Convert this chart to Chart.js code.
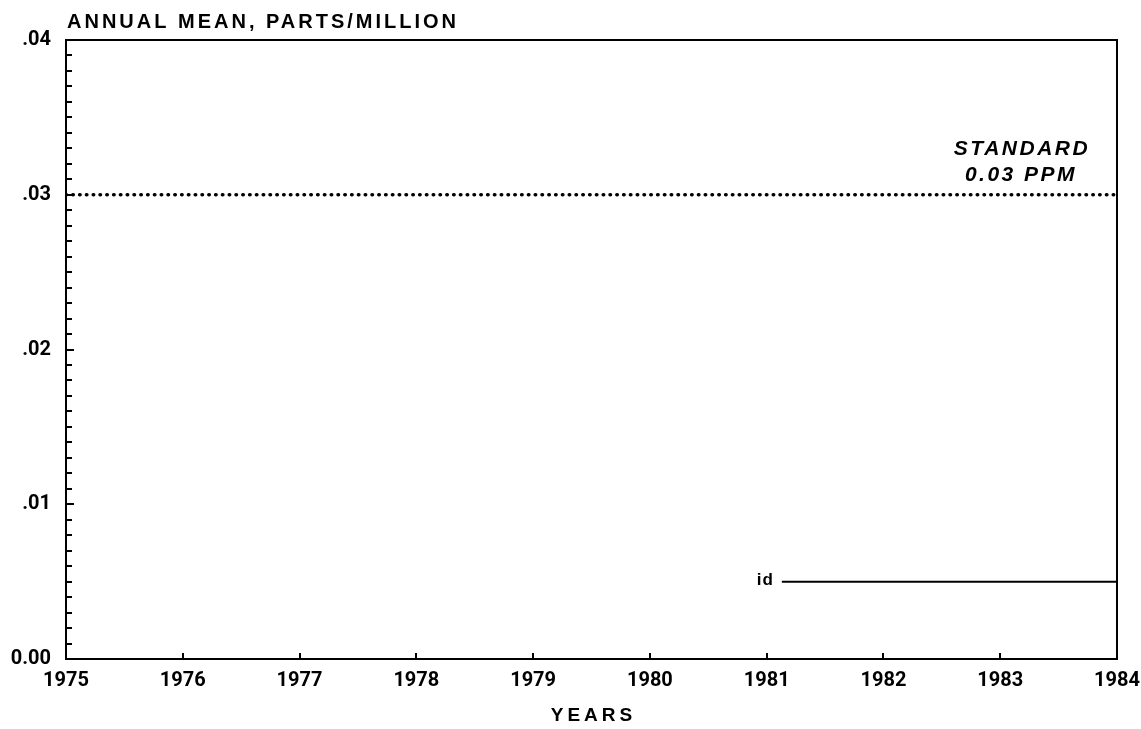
<!DOCTYPE html>
<html>
<head>
<meta charset="utf-8">
<script src="https://cdn.jsdelivr.net/npm/chart.js@4/dist/chart.umd.min.js"></script>
<style>
  html, body { margin: 0; padding: 0; background: #fff; }
  #chart { display: block; }
</style>
</head>
<body>
<canvas id="chart" width="1141" height="729"></canvas>
<script>
// data
const yearMin = 1975;
const yearMax = 1984;
const yTickLabels = ["0.00", ".01", ".02", ".03", ".04"];

const standardYears = [1975, 1984];
const standardValues = [0.03, 0.03];

const idYears = [1981.13, 1984];
const idValues = [0.005, 0.005];

const titleText = "ANNUAL MEAN, PARTS/MILLION";
const xTitleText = "YEARS";
const standardText = ["STANDARD", "0.03 PPM"];
const idText = "id";

const tickFont = "Roboto, 'DejaVu Sans Condensed', sans-serif";
const textFont = "'Liberation Sans', Arial, sans-serif";

function pts(xs, ys) {
  return xs.map((x, i) => ({ x, y: ys[i] }));
}

function isMajor(v) {
  return Math.round(v * 1000) % 10 === 0;
}

// inward tick marks, closed frame and free text
const decor = {
  id: "decor",
  afterDraw(chart) {
    const { ctx, chartArea: a, scales: { x, y } } = chart;
    ctx.save();
    ctx.strokeStyle = "#000";
    ctx.lineWidth = 2;
    ctx.lineCap = "butt";

    // top + right border
    ctx.beginPath();
    ctx.moveTo(a.left, a.top);
    ctx.lineTo(a.right, a.top);
    ctx.lineTo(a.right, a.bottom);
    ctx.stroke();

    // y ticks pointing in
    for (const t of y.ticks) {
      const py = Math.round(y.getPixelForValue(t.value));
      const len = isMajor(t.value) ? 8 : 6;
      ctx.beginPath();
      ctx.moveTo(a.left, py);
      ctx.lineTo(a.left + len, py);
      ctx.stroke();
    }
    // x ticks pointing up
    for (const t of x.ticks) {
      const px = Math.round(x.getPixelForValue(t.value));
      ctx.beginPath();
      ctx.moveTo(px, a.bottom);
      ctx.lineTo(px, a.bottom - 6);
      ctx.stroke();
    }

    ctx.fillStyle = "#000";
    ctx.textBaseline = "middle";

    // title
    ctx.font = "bold 20px " + textFont;
    ctx.letterSpacing = "3px";
    ctx.textAlign = "left";
    ctx.fillText(titleText, a.left + 1, a.top - 18);

    // x axis title
    ctx.font = "bold 19px " + textFont;
    ctx.letterSpacing = "4px";
    ctx.textAlign = "center";
    ctx.fillText(xTitleText, (a.left + a.right) / 2 + 2, a.bottom + 57);

    // standard label
    const ys = y.getPixelForValue(standardValues[0]);
    const xs = x.getPixelForValue(yearMax) - 97;
    ctx.font = "italic bold 21px " + textFont;
    ctx.letterSpacing = "2.5px";
    ctx.fillText(standardText[0], xs + 2, ys - 46);
    ctx.fillText(standardText[1], xs + 1, ys - 20);

    // id label
    const yi = y.getPixelForValue(idValues[0]);
    const xi = x.getPixelForValue(idYears[0]);
    ctx.font = "bold 17px " + textFont;
    ctx.letterSpacing = "1px";
    ctx.textAlign = "right";
    ctx.fillText(idText, xi - 8, yi - 1);

    ctx.restore();
  }
};

new Chart(document.getElementById("chart"), {
  type: "scatter",
  data: {
    datasets: [
      {
        label: "Standard",
        data: pts(standardYears, standardValues),
        showLine: true,
        borderColor: "#000",
        borderWidth: 3.5,
        borderCapStyle: "round",
        borderDash: [0.5, 6.3],
        pointRadius: 0
      },
      {
        label: "id",
        data: pts(idYears, idValues),
        showLine: true,
        borderColor: "#000",
        borderWidth: 2,
        pointRadius: 0
      }
    ]
  },
  options: {
    responsive: false,
    animation: false,
    devicePixelRatio: 1,
    layout: { padding: { top: 40, right: 24, left: 0, bottom: 0 } },
    plugins: { legend: { display: false }, tooltip: { enabled: false } },
    scales: {
      x: {
        type: "linear",
        min: yearMin,
        max: yearMax,
        afterFit: s => { s.height = 70; s.paddingLeft = 0; s.paddingRight = 0; },
        grid: { display: true, drawOnChartArea: false, drawTicks: false },
        border: { display: true, color: "#000", width: 2 },
        ticks: {
          stepSize: 1,
          padding: 10,
          color: "#000",
          font: { family: tickFont, size: 20, weight: "bold" },
          maxRotation: 0,
          callback: v => String(v)
        }
      },
      y: {
        min: 0,
        max: 0.04,
        afterFit: s => { s.width = 66; s.paddingTop = 0; s.paddingBottom = 0; },
        grid: { display: true, drawOnChartArea: false, drawTicks: false },
        border: { display: true, color: "#000", width: 2 },
        ticks: {
          stepSize: 0.001,
          autoSkip: false,
          padding: 15,
          color: "#000",
          font: { family: tickFont, size: 20, weight: "bold" },
          callback: v => isMajor(v) ? yTickLabels[Math.round(v * 100)] : ""
        }
      }
    }
  },
  plugins: [decor]
});
</script>
</body>
</html>
